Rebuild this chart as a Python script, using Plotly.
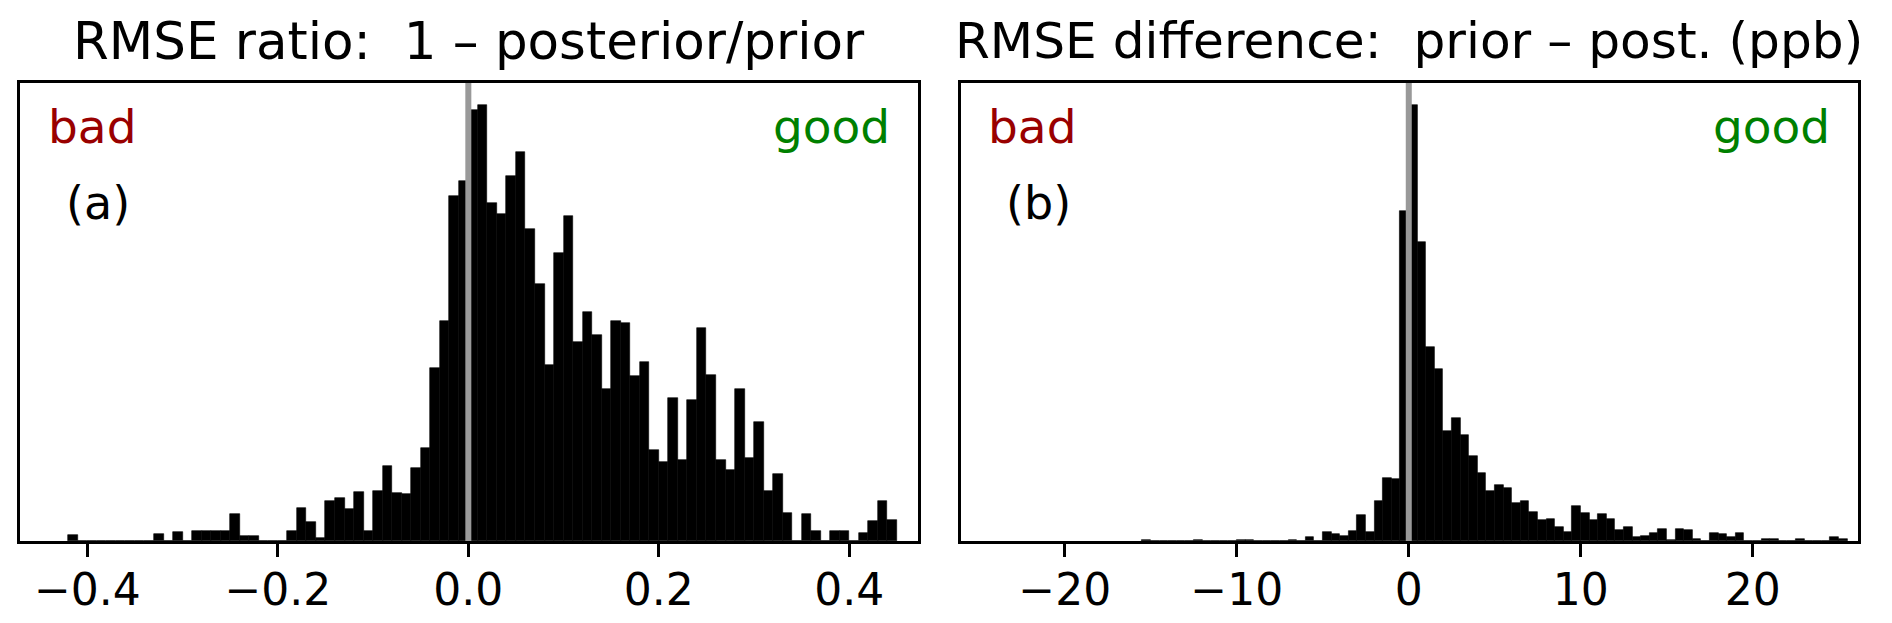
import numpy as np
import plotly.graph_objects as go

# ---------------- data ----------------
# Panel (a): RMSE ratio histogram, bins of width 0.01, first left edge -0.42
ratio_bin_start = -0.42
ratio_bin_width = 0.01
ratio_counts = [
    1.9, 0, 0, 0, 0, 0, 0, 0, 0,                                  # -0.42 .. -0.34
    2.1, 0, 2.7, 0, 2.9, 2.9, 3.1, 3.1, 8.0, 1.6, 1.6, 0, 0, 0,   # -0.33 .. -0.20
    3.0, 9.8, 5.8, 0.8, 12.0, 12.8, 9.7, 14.8, 3.0, 15.0,         # -0.19 .. -0.10
    22.5, 14.3, 14.2, 21.8, 27.8, 51.8, 65.8, 103.2, 107.8,       # -0.09 .. -0.01
    129.0, 130.5, 101.0, 97.8, 109.3, 116.5, 93.3, 77.0, 52.8, 86.2,  # 0.00 .. 0.09
    97.3, 59.5, 68.5, 61.7, 45.4, 65.8, 65.2, 49.3, 53.5, 27.2,   # 0.10 .. 0.19
    23.5, 42.8, 24.2, 42.2, 63.8, 49.8, 24.3, 21.2, 45.5, 24.7,   # 0.20 .. 0.29
    35.5, 15.1, 20.0, 8.3, 0, 8.0, 2.9, 0, 2.9, 2.9,              # 0.30 .. 0.39
    0, 2.4, 6.0, 12.1, 6.2,                                       # 0.40 .. 0.44
]

# Panel (b): RMSE difference histogram (ppb), bins of width 0.5, first left edge -15.5
diff_bin_start = -15.5
diff_bin_width = 0.5
diff_counts = [
    0.3, 0, 0, 0, 0, 0, 0.3, 0, 0, 0,          # -15.5 .. -11.0
    0, 0.4, 0.3, 0, 0, 0, 0, 0.4, 0, 1.2,      # -10.5 .. -6.0
    0, 2.7, 2.0, 1.6, 3.1, 7.8, 2.6, 12.0, 18.8, 18.5,   # -5.5 .. -1.0
    98.3,                                       # -0.5
    130.1, 89.3, 57.8, 51.3, 32.8, 36.8, 31.6, 25.3, 20.3, 14.8,   # 0.0 .. 4.5
    16.6, 15.7, 11.2, 11.8, 8.6, 6.3, 6.6, 4.3, 2.6, 10.3,         # 5.0 .. 9.5
    8.3, 6.3, 8.0, 6.5, 3.3, 4.3, 1.3, 1.5, 2.3, 3.6,              # 10.0 .. 14.5
    0.3, 3.5, 3.3, 0.5, 0, 2.5, 2.1, 1.3, 2.5, 0,                  # 15.0 .. 19.5
    0, 0.5, 0.5, 0, 0, 0.5, 0, 0, 0, 1.2,                          # 20.0 .. 24.5
    0.5,                                                           # 25.0
]

ratio_ticks = [-0.4, -0.2, 0.0, 0.2, 0.4]
ratio_ticklabels = ["\u22120.4", "\u22120.2", "0.0", "0.2", "0.4"]
diff_ticks = [-20, -10, 0, 10, 20]
diff_ticklabels = ["\u221220", "\u221210", "0", "10", "20"]

title_a = "RMSE ratio:\u00a0 1 \u2013 posterior/prior"
title_b = "RMSE difference:\u00a0 prior \u2013 post. (ppb)"

# ---------------- derived bin centres ----------------
ratio_centers = [round(ratio_bin_start + ratio_bin_width * (i + 0.5), 4) for i in range(len(ratio_counts))]
diff_centers = [round(diff_bin_start + diff_bin_width * (i + 0.5), 4) for i in range(len(diff_counts))]

W, H = 1892, 623
FONT = "DejaVu Sans"

fig = go.Figure()
fig.add_trace(go.Bar(x=ratio_centers, y=ratio_counts, width=ratio_bin_width,
                     marker=dict(color="black", line=dict(color="black", width=0.6)),
                     xaxis="x", yaxis="y", showlegend=False))
fig.add_trace(go.Bar(x=diff_centers, y=diff_counts, width=diff_bin_width,
                     marker=dict(color="black", line=dict(color="black", width=0.6)),
                     xaxis="x2", yaxis="y2", showlegend=False))

ydom = [1 - 541 / H, 1 - 83 / H]
xdom_a = [20 / W, 918 / W]
xdom_b = [960.7 / W, 1857.7 / W]

axis_common = dict(showline=True, linecolor="black", linewidth=3, mirror=True,
                   showgrid=False, zeroline=False)
xaxis_common = dict(axis_common, ticks="outside", ticklen=13, tickwidth=3, tickcolor="black",
                    ticklabelstandoff=-5,
                    tickfont=dict(family=FONT, size=44, color="black"))
yaxis_common = dict(axis_common, showticklabels=False, ticks="")

fig.update_layout(
    width=W, height=H, margin=dict(l=0, r=0, t=0, b=0),
    paper_bgcolor="white", plot_bgcolor="white",
    bargap=0, barmode="overlay", showlegend=False,
    font=dict(family=FONT, color="black"),
    xaxis=dict(xaxis_common, domain=xdom_a, range=[-0.4707, 0.4721],
               tickmode="array", tickvals=ratio_ticks, ticktext=ratio_ticklabels, anchor="y"),
    yaxis=dict(yaxis_common, domain=ydom, range=[0, max(ratio_counts) * 1.05], anchor="x"),
    xaxis2=dict(xaxis_common, domain=xdom_b, range=[-26.05, 26.10],
                tickmode="array", tickvals=diff_ticks, ticktext=diff_ticklabels, anchor="y2"),
    yaxis2=dict(yaxis_common, domain=ydom, range=[0, max(diff_counts) * 1.05], anchor="x2"),
)

# vertical zero lines
for xr, yr in (("x", "y domain"), ("x2", "y2 domain")):
    fig.add_shape(type="line", xref=xr, yref=yr, x0=0, x1=0, y0=0, y1=1,
                  line=dict(color="#999999", width=6), layer="above")

def py(px_from_top):
    return 1 - px_from_top / H

annots = []
for xd, title, tsize, lab in (("x domain", title_a, 51.5, "(a)"), ("x2 domain", title_b, 50.2, "(b)")):
    yr = "paper"
    annots.append(dict(xref=xd, yref=yr, x=0.5, y=py(40.7), text=title, showarrow=False,
                       xanchor="center", yanchor="middle",
                       font=dict(family=FONT, size=tsize, color="black")))
    annots.append(dict(xref=xd, yref=yr, x=0.0285, y=py(126.1), text="bad", showarrow=False,
                       xanchor="left", yanchor="middle",
                       font=dict(family=FONT, size=47, color="#990000")))
    annots.append(dict(xref=xd, yref=yr, x=0.9716, y=py(126.1), text="good", showarrow=False,
                       xanchor="right", yanchor="middle",
                       font=dict(family=FONT, size=47, color="#008000")))
    annots.append(dict(xref=xd, yref=yr, x=0.0485, y=py(203.4), text=lab, showarrow=False,
                       xanchor="left", yanchor="middle",
                       font=dict(family=FONT, size=46, color="black")))
fig.update_layout(annotations=annots)

fig.write_html("out.html",
               config={"displayModeBar": False},
               post_script="document.body.style.margin='0';document.body.style.padding='0';")
